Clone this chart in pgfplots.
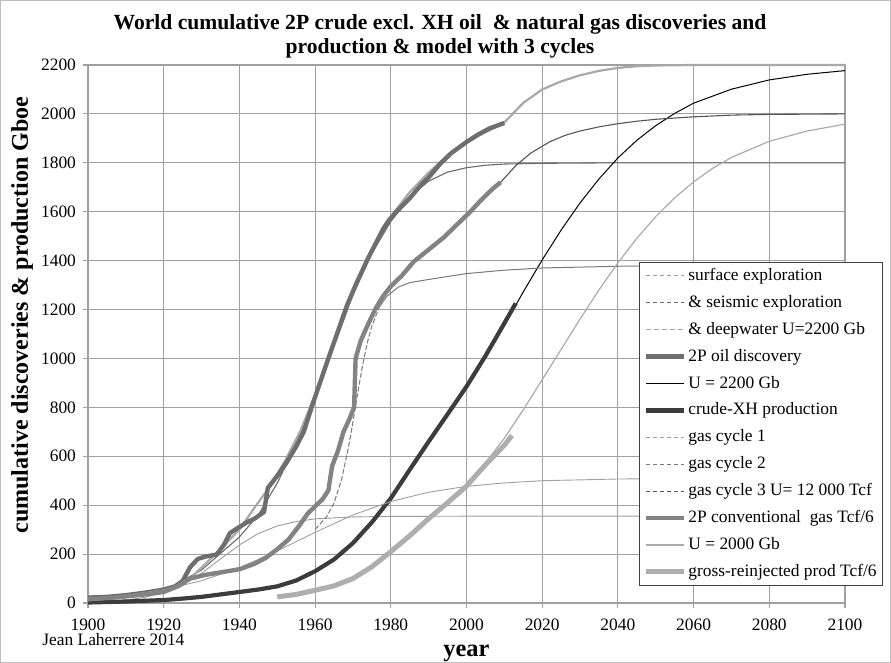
\documentclass[border=0pt]{standalone}
\usepackage{fontspec}
\setmainfont{Liberation Serif}
\usepackage{pgfplots}
\pgfplotsset{compat=1.18}
\definecolor{gridc}{HTML}{A0A0A0}
\definecolor{framec}{HTML}{BFBFBF}
\definecolor{oildisc}{HTML}{6E6E6E}
\definecolor{gasdisc}{HTML}{838383}
\definecolor{crudeprod}{HTML}{3C3C3C}
\definecolor{gasprod}{HTML}{AEAEAE}
\definecolor{oiltot}{HTML}{A8A8A8}
\definecolor{oilseis}{HTML}{6A6A6A}
\definecolor{oilsurf}{HTML}{9C9C9C}
\definecolor{gasc1}{HTML}{A0A0A0}
\definecolor{gasc2}{HTML}{7A7A7A}
\definecolor{gasc3}{HTML}{555555}
\definecolor{gasmod}{HTML}{ABABAB}
\begin{document}
\begin{tikzpicture}
\useasboundingbox (-44pt,-30pt) rectangle (401.5pt,301.5pt);
\draw[color=framec, line width=0.6pt] (-43.6pt,-29.6pt) rectangle (401.1pt,301.1pt);
\begin{axis}[
  at={(0pt,0pt)}, anchor=south west,
  scale only axis, width=378.5pt, height=269pt,
  xmin=1900, xmax=2100, ymin=0, ymax=2200,
  xtick={1900,1920,...,2100}, ytick={0,200,...,2200},
  grid=major, major grid style={gridc, line width=0.55pt},
  axis line style={gridc, line width=0.55pt},
  tick style={gridc, line width=0.55pt},
  tick align=outside, major tick length=2.5pt,
  xtick pos=left, ytick pos=left,
  /pgf/number format/assume math mode=true,
  /pgf/number format/1000 sep={},
  ticklabel style={font=\fontsize{8.7}{10}\selectfont, text=black},
  xticklabel style={yshift=-2pt},
  clip=false,
  xlabel={\textbf{year}},
  xlabel style={at={(axis description cs:0.5,-0.093)}, anchor=center, font=\fontsize{12.2}{14}\selectfont},
  ylabel={\textbf{cumulative discoveries \& production Gboe}},
  ylabel style={at={(axis description cs:-0.0872,0.535)}, anchor=center, font=\fontsize{12}{14}\selectfont},
  legend style={at={(axis description cs:0.7279,0.6338)}, anchor=north west,
    draw=black!75, line width=0.45pt, fill=white,
    font=\fontsize{8.7}{10}\selectfont, inner xsep=2pt, inner ysep=1.5pt,
    row sep=2.95pt,
    nodes={inner sep=1pt, text height=6.5pt, text depth=2pt}},
  legend cell align=left,
  legend image code/.code={\draw[#1] (0pt,0pt) -- (19pt,0pt);},
]
% ---------- oil model cycles ----------
% surface exploration (cycle 1)
\addplot[forget plot, oilsurf, line width=0.45pt] coordinates {
(1900,3) (1910,12) (1915,23) (1920,42) (1925,75) (1930,122) (1935,180) (1940,237) (1945,284) (1950,315) (1955,333) (1960,344) (1970,352) (1980,354) (2000,355) (2100,355)};
% & seismic exploration (cycles 1+2)
\addplot[forget plot, oilseis, line width=0.55pt] coordinates {
(1900,5) (1920,48) (1930,135) (1940,270) (1945,360) (1950,490) (1955,650) (1960,840) (1965,1050) (1970,1260) (1975,1430) (1980,1560) (1985,1660) (1990,1725) (1995,1762) (2000,1780) (2005,1790) (2010,1795) (2020,1798) (2040,1800) (2100,1800)};
% & deepwater U=2200 Gb (cycles 1+2+3)
\addplot[forget plot, oiltot, line width=1.1pt] coordinates {
(1900,8) (1920,50) (1925,75) (1928,115) (1931,160) (1935,220) (1940,300) (1944,390) (1948,475) (1952,580) (1956,700) (1960,850) (1965,1060) (1970,1265) (1975,1440) (1980,1580) (1985,1680) (1990,1760) (1995,1830) (2000,1885) (2005,1925) (2010,1965) (2015,2045) (2020,2100) (2025,2133) (2030,2158) (2035,2176) (2040,2188) (2045,2195) (2050,2198) (2060,2200) (2100,2200)};
% 2P oil discovery
\addplot[forget plot, oildisc, line width=2.2pt, line join=round] coordinates {
(1900,22) (1905,25) (1910,32) (1915,42) (1920,55) (1923,68) (1925,90) (1927,147) (1929,180) (1931,190) (1934,198) (1936,240) (1937.5,286) (1940,311) (1942,330) (1944,345) (1946.5,372) (1947.5,470) (1950,520) (1952.5,575) (1955,640) (1957,700) (1959.5,820) (1961.5,910) (1963.5,1000) (1966,1110) (1968.5,1220) (1971,1310) (1974,1410) (1976,1470) (1978,1530) (1979.5,1565) (1981.5,1600) (1985,1655) (1988,1710) (1990,1740) (1993,1795) (1996,1840) (2000,1885) (2003,1915) (2006,1940) (2010,1963)};
% U = 2200 Gb production model
\addplot[forget plot, black, line width=0.5pt] coordinates {
(2000,885) (2005,1010) (2010,1136) (2015,1272) (2020,1403) (2025,1525) (2030,1636) (2035,1734) (2040,1820) (2045,1892) (2050,1952) (2055,2002) (2060,2044) (2070,2101) (2080,2139) (2090,2162) (2100,2177)};
% crude-XH production
\addplot[forget plot, crudeprod, line width=2.1pt, line join=round] coordinates {
(1900,2) (1910,6) (1920,12) (1925,18) (1930,25) (1935,35) (1940,45) (1945,55) (1950,68) (1955,92) (1960,130) (1965,178) (1970,245) (1975,330) (1980,428) (1985,545) (1990,660) (1995,772) (2000,885) (2005,1010) (2009,1117) (2013,1225)};
% ---------- gas model cycles ----------
% gas cycle 1
\addplot[forget plot, gasc1, line width=0.45pt] coordinates {
(1900,18) (1910,31) (1920,54) (1930,91) (1940,144) (1950,213) (1960,289) (1970,360) (1980,415) (1990,453) (2000,477) (2010,491) (2020,500) (2040,507) (2060,509) (2100,510)};
% gas cycle 2 (1+2)
\addplot[forget plot, gasc2, line width=0.5pt, dash pattern=on 2.5pt off 1pt] coordinates {
(1960,301) (1963,351) (1965,409) (1967,505) (1969,651) (1970,741) (1971,834) (1972,925) (1973,1007) (1974,1077) (1975,1133) (1977,1211)};
\addplot[forget plot, gasc2, line width=0.5pt] coordinates {
(1977,1211) (1979,1255) (1982,1292) (1985,1310) (1990,1323) (2000,1347) (2010,1361) (2020,1370) (2040,1377) (2100,1380)};
% gas cycle 3 (1+2+3)
\addplot[forget plot, gasc3, line width=0.55pt] coordinates {
(1990,1445) (1995,1510) (2000,1590) (2005,1665) (2009,1720) (2013,1788) (2017,1840) (2022,1886) (2026,1912) (2030,1930) (2035,1947) (2040,1960) (2045,1970) (2050,1978) (2060,1988) (2070,1995) (2080,1998) (2100,2000)};
% 2P conventional gas Tcf/6
\addplot[forget plot, gasdisc, line width=2.2pt, line join=round] coordinates {
(1900,15) (1905,20) (1910,27) (1915,35) (1920,45) (1924,70) (1927,100) (1931,115) (1935,125) (1940,138) (1944,160) (1947,185) (1950,220) (1953,260) (1956,320) (1958,365) (1960,395) (1962,425) (1963.5,460) (1964.5,560) (1966,620) (1967.5,700) (1969,750) (1970.3,800) (1970.7,1000) (1972,1070) (1974,1140) (1976,1205) (1978,1255) (1980,1295) (1983,1340) (1986,1395) (1990,1445) (1994,1495) (1998,1555) (2001,1600) (2004,1650) (2007,1695) (2009,1720)};
% U = 2000 Gb gas production model
\addplot[forget plot, gasmod, line width=0.6pt] coordinates {
(2000,472) (2010,674) (2015,790) (2020,913) (2025,1037) (2030,1161) (2035,1280) (2040,1391) (2045,1491) (2050,1580) (2055,1657) (2060,1722) (2065,1777) (2070,1822) (2080,1888) (2090,1930) (2100,1958)};
% gross-reinjected prod Tcf/6
\addplot[forget plot, gasprod, line width=2.5pt, line join=round] coordinates {
(1950,25) (1955,35) (1960,52) (1965,70) (1970,100) (1975,148) (1980,210) (1985,275) (1990,345) (1995,410) (2000,478) (2005,565) (2010,645) (2012,685)};
% ---------- legend ----------
\addlegendimage{oilsurf, line width=0.5pt, dash pattern=on 2pt off 1.5pt}
\addlegendentry{surface exploration}
\addlegendimage{oilseis, line width=0.5pt, dash pattern=on 2pt off 1.5pt}
\addlegendentry{\& seismic exploration}
\addlegendimage{oiltot, line width=0.7pt, dash pattern=on 2.5pt off 1.5pt}
\addlegendentry{\& deepwater U=2200 Gb}
\addlegendimage{oildisc, line width=2.2pt}
\addlegendentry{2P oil discovery}
\addlegendimage{black, line width=0.5pt}
\addlegendentry{U = 2200 Gb}
\addlegendimage{crudeprod, line width=2.1pt}
\addlegendentry{crude-XH production}
\addlegendimage{gasc1, line width=0.5pt, dash pattern=on 2pt off 1.5pt}
\addlegendentry{gas cycle 1}
\addlegendimage{gasc2, line width=0.5pt, dash pattern=on 2pt off 1.5pt}
\addlegendentry{gas cycle 2}
\addlegendimage{gasc3, line width=0.5pt, dash pattern=on 2pt off 1.5pt}
\addlegendentry{gas cycle 3 U= 12 000 Tcf}
\addlegendimage{gasdisc, line width=2.2pt}
\addlegendentry{2P conventional~~gas Tcf/6}
\addlegendimage{gasmod, line width=0.6pt}
\addlegendentry{U = 2000 Gb}
\addlegendimage{gasprod, line width=2.5pt}
\addlegendentry{gross-reinjected prod Tcf/6}
% ---------- texts ----------
\node[font=\fontsize{10.8}{12}\selectfont\bfseries, align=center, anchor=center]
  at (axis description cs:0.465,1.054)
  {World cumulative 2P crude excl. XH oil~~\& natural gas discoveries and\\production \& model with 3 cycles};
\node[font=\fontsize{8.7}{10}\selectfont, anchor=west, inner sep=0pt]
  at (axis description cs:-0.0608,-0.0688) {Jean Laherrere 2014};
\end{axis}
\end{tikzpicture}
\end{document}
